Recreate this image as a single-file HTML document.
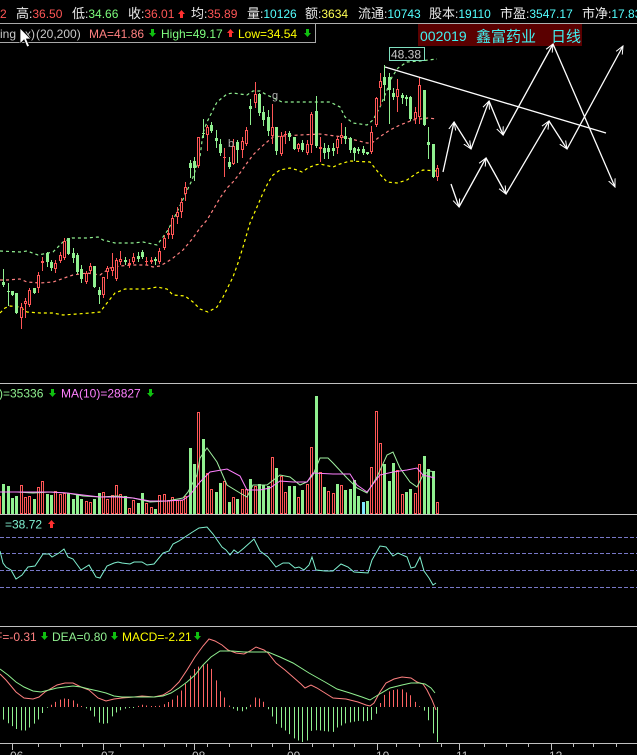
<!DOCTYPE html>
<html><head><meta charset="utf-8">
<style>
html,body{margin:0;padding:0;background:#000;width:637px;height:755px;overflow:hidden}
svg{display:block}
text{font-family:"Liberation Sans","Noto Sans CJK SC",sans-serif;}
</style></head><body>
<svg id="s" width="637" height="755" viewBox="0 0 637 755" xmlns="http://www.w3.org/2000/svg">
<defs>
<marker id="ah" markerWidth="9" markerHeight="9" refX="8" refY="4.5" orient="auto" markerUnits="userSpaceOnUse">
<path d="M0,1 L8,4.5 L0,8" fill="none" stroke="#fff" stroke-width="1"/>
</marker>
</defs>
<rect width="637" height="755" fill="#000"/>

<!-- top info row -->
<g font-size="12">
<text x="0" y="18" fill="#ff5656">2</text>
<text x="16" y="18" fill="#e8e8e8"><tspan font-size="13">高</tspan>:<tspan fill="#ff5656">36.50</tspan></text>
<text x="72" y="18" fill="#e8e8e8"><tspan font-size="13">低</tspan>:<tspan fill="#7cfc7c">34.66</tspan></text>
<text x="128" y="18" fill="#e8e8e8"><tspan font-size="13">收</tspan>:<tspan fill="#ff5656">36.01</tspan></text>
<text x="191" y="18" fill="#e8e8e8"><tspan font-size="13">均</tspan>:<tspan fill="#ff5656">35.89</tspan></text>
<text x="247" y="18" fill="#e8e8e8"><tspan font-size="13">量</tspan>:<tspan fill="#54ffff">10126</tspan></text>
<text x="305" y="18" fill="#e8e8e8"><tspan font-size="13">额</tspan>:<tspan fill="#ffff54">3634</tspan></text>
<text x="358" y="18" fill="#e8e8e8"><tspan font-size="13">流通</tspan>:<tspan fill="#54ffff">10743</tspan></text>
<text x="429" y="18" fill="#e8e8e8"><tspan font-size="13">股本</tspan>:<tspan fill="#54ffff">19110</tspan></text>
<text x="500" y="18" fill="#e8e8e8"><tspan font-size="13">市盈</tspan>:<tspan fill="#54ffff">3547.17</tspan></text>
<text x="582" y="18" fill="#e8e8e8"><tspan font-size="13">市净</tspan>:<tspan fill="#54ffff">17.83</tspan></text>
</g>

<!-- separator + legend box -->
<line x1="0" y1="23.5" x2="637" y2="23.5" stroke="#b0b0b0"/>
<rect x="-1" y="23.5" width="316.5" height="19" fill="none" stroke="#a8a8a8"/>
<g font-size="12">
<text x="0" y="38" fill="#c8c8c8">ing</text>
<text x="25" y="38" fill="#c8c8c8">x)</text>
<text x="36" y="38" fill="#c8c8c8">(20,200)</text>
<text x="89" y="38" fill="#ff8080">MA=41.86</text>
<text x="161" y="38" fill="#80ff80">High=49.17</text>
<text x="238" y="38" fill="#ffff00">Low=34.54</text>
</g>

<!-- title box -->
<rect x="418" y="24" width="164" height="22" fill="#5a0000"/>
<text x="420" y="41" font-size="14" fill="#40f0f0">002019</text>
<text x="476" y="41.5" font-size="15" fill="#40f0f0">鑫富药业</text>
<text x="551" y="41.5" font-size="15" fill="#40f0f0">日线</text>

<!-- panel separators -->
<line x1="0" y1="383.5" x2="637" y2="383.5" stroke="#c0c0c0"/>
<line x1="0" y1="514.5" x2="637" y2="514.5" stroke="#c0c0c0"/>
<line x1="0" y1="626.5" x2="637" y2="626.5" stroke="#c0c0c0"/>
<line x1="0" y1="743.5" x2="637" y2="743.5" stroke="#c0c0c0"/>

<!-- RSI dashed levels -->
<g stroke="#7878c8" stroke-dasharray="4 2">
<line x1="0" y1="537.5" x2="637" y2="537.5"/>
<line x1="0" y1="553.5" x2="637" y2="553.5"/>
<line x1="0" y1="570.5" x2="637" y2="570.5"/>
<line x1="0" y1="587.5" x2="637" y2="587.5"/>
</g>

<!-- Bollinger bands -->
<g fill="none" stroke-width="1.2" stroke-dasharray="3 3">
<polyline stroke="#90f090" points="0,251 20,252 27,251 38,255 53,252 63,242 72,238 87,238 98,237 103,240 115,243 133,243 143,242 157,245 163,237 168,230 177,212 185,195 192,180 200,157 203,133 207,122 211,114 217,102 227,94 233,93 240,94 247,95 253,91 260,91 267,95 282,102 300,102 330,102 340,107 345,117 353,123 367,125 373,120 380,107 387,90 392,77 398,68 407,62 420,61 437,59"/>
<polyline stroke="#ff8080" points="0,280 7,280 20,279 27,282 40,283 53,282 67,277 73,275 87,273 100,275 110,268 120,266 133,265 147,265 153,267 160,266 167,262 173,258 183,250 193,238 200,228 207,220 213,210 220,198 227,188 233,182 240,173 247,163 253,155 260,148 267,142 273,137 283,136 300,135 320,134 343,137 367,143 372,143 378,138 390,130 400,125 413,120 428,118 437,119"/>
<polyline stroke="#ffff00" points="0,313 5,308 10,306 20,307 27,312 40,313 53,313 63,315 77,314 90,313 100,312 107,303 115,293 125,289 147,289 157,287 167,289 173,295 185,296 193,302 200,309 208,312 217,307 223,297 233,277 238,263 243,247 250,223 257,207 263,193 268,183 273,175 280,170 290,168 297,170 302,172 308,168 315,165 320,164 333,167 340,164 350,161 370,162 378,172 387,182 397,183 407,180 417,173 423,170 437,171"/>
</g>

<g id="dyn"></g>

<!-- markers -->
<text x="272" y="99" font-size="11" fill="#b0b0b0">g</text>
<text x="228" y="147" font-size="11" fill="#b0b0b0">b</text>
<rect x="389.5" y="47.5" width="35" height="13" fill="#000" stroke="#80e0c0"/>
<text x="391" y="58.5" font-size="12" fill="#c8c8c8">48.38</text>

<!-- trend line and arrows -->
<g stroke="#fff" stroke-width="1.3" fill="none">
<line x1="385" y1="67" x2="606" y2="133"/>
<line x1="443" y1="172" x2="454" y2="122" marker-end="url(#ah)"/>
<line x1="454" y1="122" x2="471" y2="149" marker-end="url(#ah)"/>
<line x1="471" y1="149" x2="489" y2="101" marker-end="url(#ah)"/>
<line x1="489" y1="101" x2="503" y2="135" marker-end="url(#ah)"/>
<line x1="503" y1="135" x2="553" y2="44" marker-end="url(#ah)"/>
<line x1="553" y1="44" x2="615" y2="187" marker-end="url(#ah)"/>
<line x1="451" y1="184" x2="459" y2="207" marker-end="url(#ah)"/>
<line x1="459" y1="207" x2="486" y2="158" marker-end="url(#ah)"/>
<line x1="486" y1="158" x2="506" y2="194" marker-end="url(#ah)"/>
<line x1="506" y1="194" x2="549" y2="121" marker-end="url(#ah)"/>
<line x1="549" y1="121" x2="567" y2="149" marker-end="url(#ah)"/>
<line x1="567" y1="149" x2="623" y2="46" marker-end="url(#ah)"/>
</g>

<!-- volume MA lines -->
<polyline fill="none" stroke="#a0f0a0" points="0,492 17,492 33,493 50,492 67,493 83,496 100,497 117,496 133,498 150,502 167,501 183,498 188,492 197,475 200,458 207,448 217,462 227,485 240,493 247,497 253,485 267,485 280,475 290,477 300,485 307,482 313,475 320,458 328,458 333,463 347,478 357,488 367,493 377,477 387,455 393,452 400,468 410,482 417,487 423,475 430,471 435,472"/>
<polyline fill="none" stroke="#ff80ff" points="0,492 50,492 67,493 83,495 100,497 117,497 133,498 150,501 167,501 183,500 190,495 200,482 210,472 227,469 240,476 247,490 260,490 270,488 280,481 293,482 307,482 313,473 333,474 350,474 357,485 367,492 380,475 393,472 407,470 417,468 423,475 435,478"/>
<g font-size="12">
<text x="-1" y="397.5" fill="#90f090">)=35336</text>
<text x="61" y="397.5" fill="#ff80ff">MA(10)=28827</text>
</g>

<!-- RSI -->
<polyline fill="none" stroke="#80f0d0" points="0,551 3,563 6,567 11,570 16,579 22,575 28,567 35,566 43,554 49,554 52,557 59,553 64,549 68,557 73,559 81,570 89,565 96,577 100,578 107,566 114,563 118,562 122,563 130,564 134,562 142,562 147,565 154,564 163,553 169,551 173,544 179,541 191,533 199,528 207,527 213,534 222,547 226,550 230,555 234,550 238,553 244,548 254,539 260,551 268,557 276,567 283,563 289,563 295,568 299,567 304,570 309,565 312,557 316,570 325,571 333,571 341,564 348,567 354,572 368,573 372,560 380,546 386,547 393,556 398,553 407,557 411,568 415,567 420,557 424,571 429,578 433,585 436,583"/>
<text x="5" y="528.5" font-size="12" fill="#80f0d0">=38.72</text>

<!-- MACD legend -->
<g font-size="12">
<text x="-5" y="641" fill="#ff8080">F=-0.31</text>
<text x="52" y="641" fill="#90f090">DEA=0.80</text>
<text x="122" y="641" fill="#ffff00">MACD=-2.21</text>
</g>

<!-- axis -->
<g stroke="#c0c0c0" id="ticks"></g>
<g font-size="12" fill="#c0c0c0">
<text x="10" y="760">06</text>
<text x="101" y="760">07</text>
<text x="192" y="760">08</text>
<text x="287" y="760">09</text>
<text x="376" y="760">10</text>
<text x="456" y="760">11</text>
<text x="549" y="760">12</text>
</g>

<!-- cursor -->
<polygon points="20,28 20,44 24,40 27,47 29.5,46 26.5,39 31,39" fill="#fff" stroke="#000" stroke-width="0.8"/>
</svg>
<script>
(function(){
var NS='http://www.w3.org/2000/svg';
var g=document.getElementById('dyn');
function el(t,a,p){var e=document.createElementNS(NS,t);for(var k in a)e.setAttribute(k,a[k]);(p||g).appendChild(e);return e;}
var R='#ff5656',G='#90f090',CY='#80e8ff';
var C=[
[3,282,285,269,286,'g'],[8,291,292,283,305,'g'],[12,291,295,291,295,'g'],[16,293,313,293,313,'g'],[21,307,318,303,328,'r'],
[25,301,304,298,317,'r'],[29,290,305,288,306,'r'],[34,288,293,288,293,'g'],[38,275,288,272,292,'r'],[42,261,263,257,270,'r'],
[47,253,262,252,266,'g'],[51,262,268,260,270,'g'],[55,263,269,260,272,'r'],[60,255,261,252,262,'r'],[64,241,258,238,259,'r'],
[68,238,254,238,254,'g'],[73,253,258,248,262,'g'],[77,255,272,253,273,'g'],[81,269,279,265,282,'g'],[86,273,282,271,283,'r'],
[90,266,271,263,273,'r'],[94,266,287,266,287,'g'],[99,290,295,287,303,'g'],[103,277,295,277,297,'r'],[107,268,272,266,278,'r'],
[112,267,271,253,275,'r'],[116,260,279,258,280,'r'],[120,259,262,251,264,'r'],[125,260,262,257,264,'g'],[129,263,265,259,267,'r'],
[133,257,262,253,263,'r'],[138,256,259,252,261,'g'],[142,252,257,250,258,'g'],[146,261,262,257,264,'r'],[151,260,262,257,263,'r'],
[155,259,261,257,264,'g'],[159,251,262,248,263,'r'],[164,238,248,235,249,'r'],[168,233,235,228,238,'r'],[172,218,235,215,238,'r'],
[177,212,217,207,223,'r'],[181,202,212,198,217,'r'],[185,187,194,182,200,'r'],[190,163,168,160,177,'g'],[194,161,168,157,180,'g'],
[198,137,166,137,167,'r'],[203,133,134,119,137,'g'],[207,127,135,125,150,'r'],[211,125,131,122,132,'g'],[216,138,141,130,147,'g'],
[220,144,153,139,155,'g'],[224,157,158,148,176,'r'],[229,162,167,157,168,'g'],[233,146,164,139,164,'r'],[237,142,150,140,162,'g'],
[242,141,150,137,157,'r'],[246,130,144,127,145,'r'],[250,106,109,99,124,'g'],[255,94,103,82,107,'r'],[259,94,113,93,115,'g'],
[263,112,120,106,125,'g'],[268,117,131,110,135,'g'],[272,127,136,104,143,'r'],[276,127,151,127,154,'g'],[281,136,154,132,155,'r'],
[285,134,135,131,143,'r'],[289,133,137,131,140,'g'],[294,137,149,137,149,'g'],[298,144,149,143,151,'r'],[302,143,150,140,151,'g'],
[307,144,153,140,154,'r'],[311,114,145,112,152,'r'],[316,111,146,96,147,'g'],[320,147,149,137,161,'r'],[324,148,153,143,158,'g'],
[328,148,152,145,158,'g'],[333,148,151,143,155,'g'],[337,139,148,137,153,'r'],[341,135,138,123,143,'r'],[345,136,139,127,143,'g'],
[350,138,150,137,152,'g'],[354,148,153,147,160,'g'],[358,149,151,147,153,'g'],[363,149,153,146,154,'g'],[367,152,154,152,154,'g'],
[371,132,152,126,153,'r'],[376,98,125,97,126,'r'],[380,81,88,73,105,'r'],[384,77,85,65,100,'g'],[389,77,90,73,123,'g'],
[393,93,97,88,99,'g'],[397,89,97,79,111,'r'],[402,95,98,93,103,'g'],[406,97,99,95,105,'g'],[410,97,119,96,120,'g'],
[415,112,119,107,123,'r'],[419,85,117,77,123,'r'],[424,90,125,90,125,'g'],[428,142,145,127,158,'g'],[433,144,177,144,177,'g'],
[437,168,177,165,180,'r']];
// candles
C.forEach(function(c){
  var x=c[0],bt=c[1],bb=c[2],wt=c[3],wb=c[4],col=c[5]=='r'?R:G;
  el('line',{x1:x+.5,y1:wt,x2:x+.5,y2:wb+1,stroke:col});
  if(bb-bt<=1){el('rect',{x:x-1,y:bt,width:3,height:1,fill:col});}
  else if(c[5]=='r'){el('rect',{x:x-.5,y:bt+.5,width:2,height:bb-bt-1,fill:'#000',stroke:col});}
  else{el('rect',{x:x-1,y:bt,width:3,height:bb-bt,fill:col});}
});
// volume
var V=[484,486,498,496,485,497,496,499,487,481,494,495,491,494,493,493,499,495,499,501,502,499,493,492,499,495,485,494,496,508,500,503,493,503,507,509,495,494,500,497,500,500,496,448,464,412,439,473,489,492,483,481,502,497,499,489,489,479,486,484,485,486,457,468,476,492,486,486,497,490,484,447,396,472,487,491,493,484,485,490,489,480,496,502,501,467,411,443,464,481,463,470,494,492,489,493,464,456,469,471,502];
var VC='ggggrrrgrrggrrrggggrrggrrrrrgrrggrrgrrrrrrrggrgrrggrgrgrrgrgggrgrrggrgrrgrgrrgrggggcgrrrgggrrggrrgggr';
function vbar(x,t,c){
  var col=c=='r'?R:(c=='c'?CY:G);
  if(c=='r'){el('rect',{x:x-.5,y:t+.5,width:2,height:513-t,fill:'#000',stroke:col});}
  else el('rect',{x:x-1,y:t,width:3,height:514-t,fill:col});
}
vbar(-1,496,'r');
for(var i=0;i<C.length;i++){vbar(C[i][0],V[i],VC.charAt(i)||'g');}
// macd
var DIF=[[0,674],[6,680],[16,692],[24,698],[33,699],[39,697],[45,692],[57,685],[65,683],[73,683],[81,687],[89,690],[98,698],[106,701],[114,699],[122,698],[134,697],[142,696],[154,697],[163,695],[171,690],[179,682],[187,670],[195,657],[203,646],[209,639],[215,641],[222,645],[228,650],[236,653],[244,654],[250,651],[256,647],[264,650],[268,653],[276,663],[285,670],[293,677],[301,684],[305,688],[311,685],[317,688],[325,693],[333,698],[346,699],[358,702],[366,705],[370,706],[374,703],[380,692],[386,683],[394,679],[402,677],[411,678],[417,682],[423,684],[427,690],[432,700],[436,710]];
var DEA=[[0,669],[8,675],[16,682],[24,687],[33,691],[41,692],[49,690],[57,688],[65,687],[73,686],[81,687],[89,689],[98,691],[106,693],[114,696],[122,697],[138,697],[154,697],[163,696],[171,693],[179,688],[187,682],[195,675],[203,665],[211,657],[220,651],[232,651],[244,652],[256,652],[268,652],[280,657],[293,663],[309,673],[325,682],[337,689],[350,693],[362,697],[370,700],[378,695],[390,688],[402,685],[411,683],[419,683],[425,684],[431,688],[435,693]];
function interp(P,x){
  if(x<=P[0][0])return P[0][1];
  for(var i=1;i<P.length;i++){if(x<=P[i][0]){var a=P[i-1],b=P[i];return a[1]+(b[1]-a[1])*(x-a[0])/(b[0]-a[0]);}}
  return P[P.length-1][1];
}
var xs=[-1].concat(C.map(function(c){return c[0];}));
xs.forEach(function(x){
  var d=interp(DEA,x)-interp(DIF,x);
  var h=d*2.2; var y2=Math.max(627,Math.min(742,707-h));
  if(Math.abs(h)<0.6){y2=707-(h>=0?1:-1);}
  el('line',{x1:x+.5,y1:707,x2:x+.5,y2:y2,stroke:h>=0?'#ff6464':G});
});
function pl(P,col){el('polyline',{points:P.map(function(p){return p.join(',');}).join(' '),fill:'none',stroke:col});}
pl(DIF,'#ff8080');pl(DEA,'#90f090');
// arrows (legend)
function arrow(x,y,up,col){
  if(up){el('polygon',{points:(x+3.5)+','+y+' '+(x+7)+','+(y+4)+' '+(x+5)+','+(y+4)+' '+(x+5)+','+(y+8)+' '+(x+2)+','+(y+8)+' '+(x+2)+','+(y+4)+' '+x+','+(y+4),fill:col});}
  else{el('polygon',{points:(x+2)+','+y+' '+(x+5)+','+y+' '+(x+5)+','+(y+4)+' '+(x+7)+','+(y+4)+' '+(x+3.5)+','+(y+8)+' '+x+','+(y+4)+' '+(x+2)+','+(y+4),fill:col});}
}
var sv=document.getElementById('s');
var ag=el('g',{},sv);
function arrow2(x,y,up,col){var save=g;g=ag;arrow(x,y,up,col);g=save;}
arrow2(178,10,true,'#ff3030');
arrow2(149,29,false,'#10c010');
arrow2(227,29,true,'#ff3030');
arrow2(304,29,false,'#10c010');
arrow2(49,389,false,'#10c010');
arrow2(147,389,false,'#10c010');
arrow2(48,520,true,'#ff3030');
arrow2(41,632,false,'#10c010');
arrow2(111,632,false,'#10c010');
arrow2(194,632,false,'#10c010');
// ticks
var tk=document.getElementById('ticks');
[12,103,194,289,377,459,551].forEach(function(x){el('line',{x1:x+.5,y1:743,x2:x+.5,y2:750},tk);});
[38,60,82,120,143,164,186,207,229,251,272,312,333,354,396,419,441,484,506,528,573,593,616].forEach(function(x){el('line',{x1:x+.5,y1:743,x2:x+.5,y2:747},tk);});
})();
</script>
</body></html>
